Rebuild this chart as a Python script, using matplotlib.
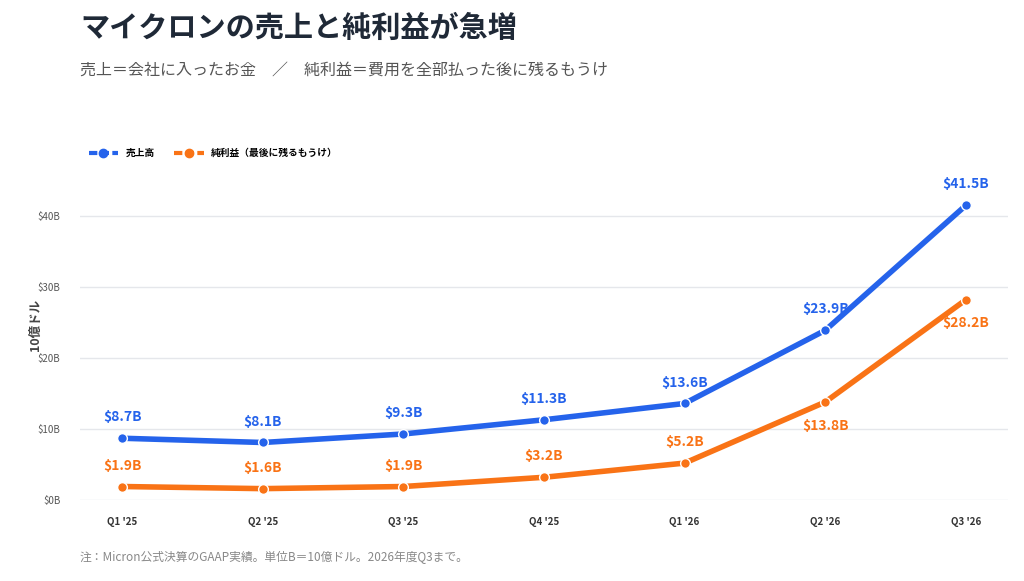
import matplotlib.pyplot as plt
from matplotlib.lines import Line2D

plt.rcParams['font.family'] = ['Noto Sans CJK JP', 'DejaVu Sans']

quarters = ["Q1 '25", "Q2 '25", "Q3 '25", "Q4 '25", "Q1 '26", "Q2 '26", "Q3 '26"]
revenue = [8.7, 8.1, 9.3, 11.3, 13.6, 23.9, 41.5]
net_income = [1.9, 1.6, 1.9, 3.2, 5.2, 13.8, 28.2]
yticks = [0, 10, 20, 30, 40]

blue = '#2563eb'
orange = '#f97316'

fig = plt.figure(figsize=(10.24, 5.81), dpi=100)
ax = fig.add_axes([80/1024, 81/581, 928/1024, 350/581])
x = range(len(quarters))
ax.plot(x, revenue, color=blue, lw=4, marker='o', ms=7, mec='white', mew=1,
        solid_capstyle='round', zorder=3)
ax.plot(x, net_income, color=orange, lw=4, marker='o', ms=7, mec='white', mew=1,
        solid_capstyle='round', zorder=3)

for i, v in enumerate(revenue):
    ax.annotate(f'${v}B', (i, v), xytext=(0, 10), textcoords='offset points',
                ha='center', va='bottom', color=blue, fontsize=10, fontweight='bold')
for i, v in enumerate(net_income):
    below = i >= 5
    ax.annotate(f'${v}B', (i, v), xytext=(0, -12 if below else 10), textcoords='offset points',
                ha='center', va='top' if below else 'bottom', color=orange, fontsize=10, fontweight='bold')

ax.set_xlim(-0.3, 6.3)
ax.set_ylim(0, 49.3)
ax.set_yticks(yticks)
ax.set_yticklabels([f'${t}B' for t in yticks], fontsize=7, color='#555555')
ax.set_xticks(list(x))
ax.set_xticklabels(quarters, fontsize=7, fontweight='bold', color='#333333')
ax.grid(axis='y', color='#e5e7eb', lw=1)
ax.tick_params(length=0, pad=12)
ax.tick_params(axis='y', pad=14)
for s in ax.spines.values():
    s.set_visible(False)
ax.set_ylabel('10億ドル', fontsize=9, fontweight='bold', color='#444444', labelpad=-3)

handles = [Line2D([], [], color=blue, lw=3, ls=(0, (2, 0.8)), marker='o', ms=6),
           Line2D([], [], color=orange, lw=3, ls=(0, (2, 0.8)), marker='o', ms=6)]
ax.legend(handles, ['売上高', '純利益（最後に残るもうけ）'], loc='upper left',
          bbox_to_anchor=(0.0, 1.03), ncol=2, frameon=False,
          prop={'weight': 'bold', 'size': 7}, handlelength=3, columnspacing=2)

fig.text(80/1024, 1 - 28/581, 'マイクロンの売上と純利益が急増', fontsize=21, fontweight='bold',
         color='#1f2937', va='center')
fig.text(80/1024, 1 - 70/581, '売上＝会社に入ったお金　／　純利益＝費用を全部払った後に残るもうけ',
         fontsize=11.5, color='#555555', va='center')
fig.text(80/1024, 1 - 557/581, '注：Micron公式決算のGAAP実績。単位B＝10億ドル。2026年度Q3まで。',
         fontsize=8.5, color='#888888', va='center')

fig.savefig('out.png', dpi=100)
